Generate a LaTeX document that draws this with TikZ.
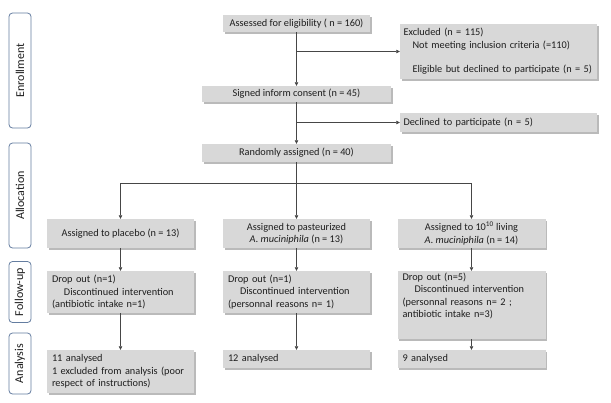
\documentclass[tikz,border=0pt]{standalone}
\usepackage{fontspec}
\setmainfont{Carlito}
\usetikzlibrary{shadows,arrows.meta}
\definecolor{boxgray}{RGB}{216,216,216}
\definecolor{linegray}{RGB}{70,70,70}
\definecolor{stageblue}{RGB}{100,125,160}
\definecolor{txt}{RGB}{30,30,30}
\tikzset{
  box/.style={fill=boxgray, drop shadow={shadow xshift=1.6pt, shadow yshift=-1.6pt, fill=black!45, opacity=0.6},
    inner xsep=5pt, inner ysep=1pt, text=txt, font=\fontsize{10.3}{12.4}\selectfont},
  cbox/.style={box, align=center},
  lbox/.style={box, align=left},
  stage/.style={draw=stageblue, line width=0.8pt, rounded corners=3.5pt, fill=white, rotate=90,
    inner sep=0pt, minimum height=22pt, text=txt, font=\fontsize{12}{14}\selectfont},
  arr/.style={draw=linegray, line width=0.6pt, -{Triangle[length=3.5pt,width=3.5pt]}},
}
\begin{document}
\begin{tikzpicture}[x=1pt,y=-1pt]
\useasboundingbox (0,0) rectangle (611,402);
% stage labels
\node[stage, minimum width=115pt] (L1) at (20,70.5) {Enrollment};
\node[stage, minimum width=105pt] (L2) at (20,195.5) {Allocation};
\node[stage, minimum width=61pt] (L3) at (20,292) {Follow-up};
\node[stage, minimum width=61pt] (L4) at (20,363.5) {Analysis};
% enrollment
\node[cbox, minimum width=147pt, minimum height=17pt] (A) at (296.5,23.5) {Assessed for eligibility ( n = 160)};
\node[lbox, minimum width=197pt, minimum height=55pt, inner xsep=3.5pt, text width=190pt] (E) at (498.5,51.5)
  {Excluded (n = 115)\\\hspace*{9pt}Not meeting inclusion criteria (=110)\\[12.4pt]\mbox{\hspace*{9pt}Eligible but declined to participate (n = 5)}};
\node[cbox, minimum width=189pt, minimum height=16pt] (S) at (296.5,94) {Signed inform consent (n = 45)};
\node[lbox, minimum width=197pt, minimum height=19pt, inner xsep=3.5pt, text width=190pt] (D) at (498.5,122.5) {Declined to participate (n = 5)};
\node[cbox, minimum width=189pt, minimum height=18pt] (R) at (296.5,153) {Randomly assigned (n = 40)};
% allocation
\node[cbox, minimum width=147pt, minimum height=29pt] (P1) at (120.5,233.5) {Assigned to placebo (n = 13)};
\node[cbox, minimum width=147pt, minimum height=29pt] (P2) at (296.5,233.5) {Assigned to pasteurized\\\textit{A. muciniphila} (n = 13)};
\node[cbox, minimum width=148pt, minimum height=29pt] (P3) at (471.5,233.5) {Assigned to 10\textsuperscript{10} living\\\textit{A. muciniphila} (n = 14)};
% follow-up
\node[lbox, minimum width=147pt, minimum height=42pt, text width=137pt] (F1) at (120.5,292)
  {Drop out (n=1)\\\hspace*{12pt}Discontinued intervention\\(antibiotic intake n=1)};
\node[lbox, minimum width=147pt, minimum height=42pt, text width=137pt] (F2) at (296.5,292)
  {Drop out (n=1)\\\hspace*{12pt}Discontinued intervention\\(personnal reasons n= 1)};
\node[lbox, minimum width=148pt, minimum height=68pt, text width=138pt] (F3) at (471.5,305)
  {Drop out (n=5)\\\hspace*{12pt}Discontinued intervention\\(personnal reasons n= 2 ;\\antibiotic intake n=3)\\[7pt]\mbox{}};
% analysis
\node[lbox, minimum width=147pt, minimum height=43pt, text width=137pt] (N1) at (120.5,371.5)
  {11 analysed\\1 excluded from analysis (poor\\respect of instructions)};
\node[lbox, minimum width=147pt, minimum height=18pt, text width=137pt] (N2) at (296.5,359) {12 analysed};
\node[lbox, minimum width=148pt, minimum height=18pt, text width=138pt] (N3) at (471.5,359) {9 analysed};
% connectors
\draw[arr] (A) -- (S);
\draw[arr] (A.south |- E.west) -- (E.west);
\draw[arr] (S) -- (R);
\draw[arr] (S.south |- D.west) -- (D.west);
\coordinate (sp) at (296.5,183);
\draw[arr] (R) -- (P2);
\draw[arr] (sp) -| (P1.north);
\draw[arr] (sp) -| (P3.north);
\draw[arr] (P1) -- (F1);
\draw[arr] (P2) -- (F2);
\draw[arr] (P3) -- (F3);
\draw[arr] (F1) -- (N1);
\draw[arr] (F2) -- (N2);
\draw[arr] (F3) -- (N3);
\end{tikzpicture}
\end{document}
